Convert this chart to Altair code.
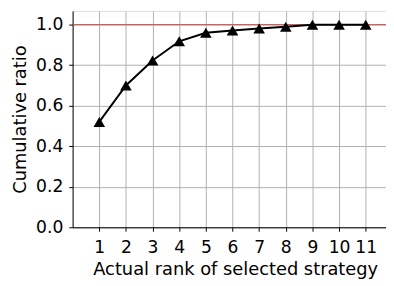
import altair as alt
import pandas as pd

ranks = [1, 2, 3, 4, 5, 6, 7, 8, 9, 10, 11]
ratios = [0.52, 0.70, 0.823, 0.918, 0.96, 0.971, 0.981, 0.99, 1.0, 1.0, 1.0]
y_ticks = [0.0, 0.2, 0.4, 0.6, 0.8, 1.0]
ref_value = 1.0

df = pd.DataFrame({"rank": ranks, "ratio": ratios})

FONT = "DejaVu Sans"

x = alt.X("rank:Q",
          scale=alt.Scale(domain=[0, 11.76], nice=False, zero=False),
          axis=alt.Axis(values=ranks, title="Actual rank of selected strategy",
                        grid=True, gridColor="#b0b0b0", gridWidth=1,
                        domainColor="black", domainWidth=1,
                        tickColor="black", tickSize=4, tickWidth=1,
                        labelFont=FONT, labelFontSize=17.5, labelColor="black",
                        labelPadding=8, labelFlush=False,
                        titleFont=FONT, titleFontSize=18.2, titleFontWeight="normal",
                        titleColor="black", titlePadding=5, titleX=166))
y = alt.Y("ratio:Q",
          scale=alt.Scale(domain=[0, 1.068], nice=False),
          axis=alt.Axis(values=y_ticks, format=".1f", title="Cumulative ratio",
                        grid=True, gridColor="#b0b0b0", gridWidth=1,
                        domainColor="black", domainWidth=1,
                        tickColor="black", tickSize=4, tickWidth=1,
                        labelFont=FONT, labelFontSize=17.5, labelColor="black",
                        labelPadding=6, labelFlush=False,
                        titleFont=FONT, titleFontSize=18.2, titleFontWeight="normal",
                        titleColor="black", titlePadding=6))

base = alt.Chart(df)

rule = alt.Chart(pd.DataFrame({"v": [ref_value]})).mark_rule(
    color="#d94040", strokeWidth=1).encode(y=alt.Y("v:Q", scale=alt.Scale(domain=[0, 1.068], nice=False)))

line = base.mark_line(color="black", strokeWidth=2).encode(x=x, y=y)
pts = base.mark_point(shape="triangle-up", filled=True, size=140,
                      color="black", opacity=1).encode(x=x, y=y)

chart = alt.layer(rule, line, pts).properties(
    width=320, height=221,
    autosize=alt.AutoSizeParams(type="none"),
    padding={"left": 66, "top": 0, "right": 0, "bottom": 57},
).configure_view(stroke=None).configure(background="white")

chart.save("out.html", embed_options={"renderer": "svg", "actions": False})
